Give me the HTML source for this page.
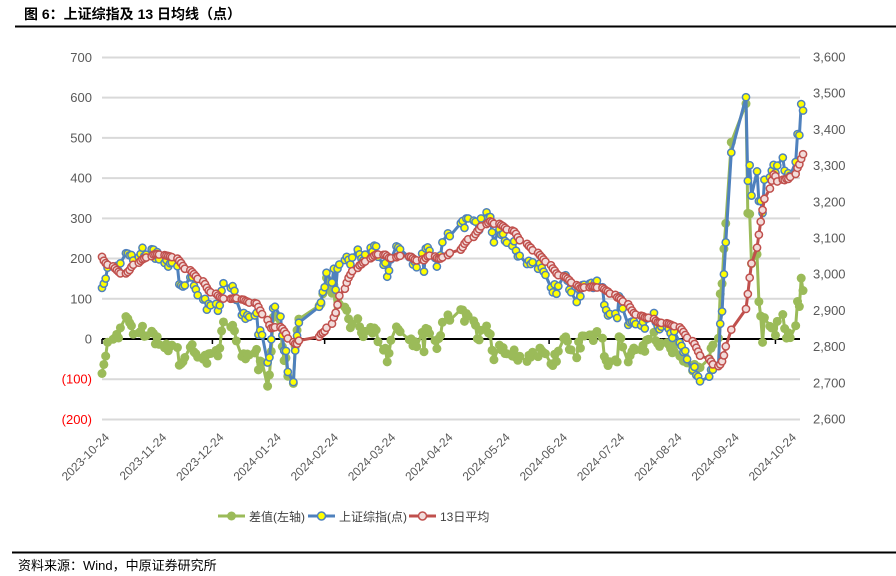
<!DOCTYPE html>
<html><head><meta charset="utf-8">
<style>
body{margin:0;background:#fff;width:896px;height:576px;overflow:hidden;font-family:"Liberation Sans","Noto Sans CJK SC",sans-serif;}
svg{display:block}
</style></head>
<body>
<svg id="chart" width="896" height="576" xmlns="http://www.w3.org/2000/svg">
<text x="24" y="19" font-size="14" font-weight="bold" fill="#000" font-family="Liberation Sans, Noto Sans CJK SC, sans-serif">图 6：上证综指及 13 日均线（点）</text>
<line x1="15" y1="26.5" x2="896" y2="26.5" stroke="#000" stroke-width="2"/>
<g id="grid"></g>
<g id="ylabels"></g>
<g id="y2labels"></g>
<g id="xaxis"></g>
<g id="series"></g>
<g>
  <g>
    <line x1="218" y1="516" x2="245" y2="516" stroke="#9BBB59" stroke-width="3"/>
    <circle cx="231.5" cy="516" r="4.5" fill="#9BBB59"/>
    <text x="249" y="521" font-size="12" fill="#404040">差值(左轴)</text>
  </g>
  <g>
    <line x1="308" y1="516" x2="335" y2="516" stroke="#4F81BD" stroke-width="3"/>
    <circle cx="321.5" cy="516" r="4" fill="#FFFF00" stroke="#4F81BD" stroke-width="1.5"/>
    <text x="339" y="521" font-size="12" fill="#404040">上证综指(点)</text>
  </g>
  <g>
    <line x1="409" y1="516" x2="436" y2="516" stroke="#C0504D" stroke-width="3"/>
    <circle cx="422.5" cy="516" r="4" fill="#F2DCDB" stroke="#C0504D" stroke-width="1.5"/>
    <text x="440" y="521" font-size="12" fill="#404040">13日平均</text>
  </g>
</g>
<line x1="12" y1="552.5" x2="896" y2="552.5" stroke="#000" stroke-width="2"/>
<text x="18" y="570" font-size="13" fill="#000">资料来源：Wind，中原证券研究所</text>
</svg>
<script>
// 12 closes before the first plotted day (for the 13-day average)
const preCloses = [3110,3076,3075,3078,3088,3088,3074,3084,3059,3005,2983,2939];
// Shanghai Composite closes, 2023-10-24 .. 2024-11-08 (trading days)
const closeOct23 = [2962,2974,2988,3018,3021,3019];
const closeNov23 = [3023,3009,3030,3058,3057,3052,3053,3038,3047,3056,3073,3050,3054,3069,3068,3043,3061,3041,3031,3039,3021,3030];
const closeDec23 = [3032,3022,2972,2969,2966,2969,2991,2992,2968,2958,2942,2930,2932,2902,2918,2914,2918,2899,2914,2954,2975];
const closeJan24 = [2962,2967,2954,2929,2887,2893,2877,2887,2882,2886,2893,2833,2845,2832,2756,2770,2820,2906,2910,2883,2831,2789];
const closeFeb24 = [2788,2730,2702,2789,2830,2866,2910,2922,2951,2964,3004,2977,3015,2957,3015];
const closeMar24 = [3027,3039,3048,3040,3027,3046,3068,3055,3043,3038,3054,3073,3062,3079,3077,3048,3026,3031,2993,3010,3041];
const closeApr24 = [3077,3074,3069,3047,3048,3027,3034,3019,3057,3007,3071,3074,3065,3045,3021,3044,3052,3088,3113,3105];
const closeMay24 = [3141,3147,3128,3154,3154,3148,3145,3119,3122,3154,3171,3157,3158,3116,3088,3124,3109,3111,3092,3087];
const closeJun24 = [3078,3091,3065,3049,3051,3028,3037,3028,3033,3015,3030,3018,3007,2998,2963,2950,2972,2946,2967];
const closeJul24 = [2995,2997,2982,2957,2950,2923,2959,2939,2970,2971,2974,2976,2962,2977,2982,2964,2915,2901,2886,2890,2891,2879,2939];
const closeAug24 = [2932,2905,2860,2867,2869,2870,2862,2858,2868,2850,2877,2879,2893,2867,2856,2848,2855,2855,2849,2837,2824,2842];
const closeSep24 = [2811,2802,2785,2788,2765,2736,2744,2721,2717,2704,2717,2736,2736,2748,2863,2897,3000,3088,3336];
const closeOct24 = [3489,3258,3301,3217,3284,3202,3202,3169,3261,3268,3286,3302,3280,3300,3322,3286,3266,3279];
const closeNov24 = [3272,3310,3387,3384,3470,3452];
const holidays = ["2024-01-01","2024-02-09","2024-02-12","2024-02-13","2024-02-14","2024-02-15","2024-02-16","2024-04-04","2024-04-05","2024-05-01","2024-05-02","2024-05-03","2024-06-10","2024-09-16","2024-09-17","2024-10-01","2024-10-02","2024-10-03","2024-10-04","2024-10-07"];
const leftTicks = [700,600,500,400,300,200,100,0,-100,-200];
const rightTicks = [3600,3500,3400,3300,3200,3100,3000,2900,2800,2700,2600];
const xLabels = ["2023-10-24","2023-11-24","2023-12-24","2024-01-24","2024-02-24","2024-03-24","2024-04-24","2024-05-24","2024-06-24","2024-07-24","2024-08-24","2024-09-24","2024-10-24"];

const closes = [].concat(closeOct23,closeNov23,closeDec23,closeJan24,closeFeb24,closeMar24,closeApr24,closeMay24,closeJun24,closeJul24,closeAug24,closeSep24,closeOct24,closeNov24);
const NS="http://www.w3.org/2000/svg";
const day0 = Date.UTC(2023,9,24);
const dates=[];
for(let t=day0; dates.length<closes.length; t+=86400000){
  const d=new Date(t), wd=d.getUTCDay(), s=d.toISOString().slice(0,10);
  if(wd===0||wd===6||holidays.includes(s)) continue;
  dates.push((t-day0)/86400000);
}
const xS = d => 102 + d*1.84;
const yL = v => 339 - v*(362/900);
const yR = v => 57 + (3600-v)*(362/1000);
function el(tag,attrs,parent){const e=document.createElementNS(NS,tag);for(const k in attrs)e.setAttribute(k,attrs[k]);parent.appendChild(e);return e;}

const grid=document.getElementById('grid'), yl=document.getElementById('ylabels'), yr=document.getElementById('y2labels'), xa=document.getElementById('xaxis'), ser=document.getElementById('series');
leftTicks.forEach(v=>{
  if(v!==0){const g=el('line',{x1:102,x2:800,y1:yL(v),y2:yL(v),stroke:'#D9D9D9','stroke-width':2},grid);
  
  }
  const t=el('text',{x:92,y:yL(v)+4.5,'text-anchor':'end','font-size':13,fill:v<0?'#FF0000':'#595959'},yl);
  t.textContent = v<0?'('+(-v)+')':String(v);
  
  
});
rightTicks.forEach(v=>{
  const t=el('text',{x:813,y:yR(v)+4.5,'font-size':13,fill:'#595959'},yr);
  t.textContent = v.toLocaleString('en-US');
  
  
});
const ax=el('line',{x1:102,x2:800,y1:yL(0),y2:yL(0),stroke:'#000','stroke-width':2},xa);


[0,60,121,182,243,305,366].forEach(d=>{
  const tk=el('line',{x1:xS(d),x2:xS(d),y1:yL(0),y2:yL(0)+5,stroke:'#000','stroke-width':1.5},xa);
  
  
});
xLabels.forEach((s,i)=>{
  const x=110+57.25*i, y=438;
  const t=el('text',{x:x,y:y,'text-anchor':'end','font-size':12,fill:'#595959',transform:`rotate(-45 ${x} ${y})`},xa);
  t.textContent=s;
  
  
});

// derived series
const all = preCloses.concat(closes);
const ma13 = closes.map((c,i)=>{let s=0;for(let k=i;k<i+13;k++)s+=all[k];return s/13;});
const diff = closes.map((c,i)=>c-ma13[i]);

function drawSeries(vals,yf,color,fill,stroke,r,name){
  const g=el('g',{},ser);
  
  
  const pts=vals.map((v,i)=>xS(dates[i]).toFixed(1)+','+yf(v).toFixed(1)).join(' ');
  const pl=el('polyline',{points:pts,fill:'none',stroke:color,'stroke-width':3,'stroke-linejoin':'round'},g);
  
  
  vals.forEach((v,i)=>{
    const c=el('circle',{cx:xS(dates[i]),cy:yf(v),r:r,fill:fill,stroke:stroke||'none','stroke-width':stroke?1.5:0},g);
    
    
  });
}
drawSeries(diff,yL,'#9BBB59','#9BBB59',null,4.5,'diff-series');
drawSeries(closes,yR,'#4F81BD','#FFFF00','#4F81BD',3.6,'index-series');
drawSeries(ma13,yR,'#C0504D','#F2DCDB','#C0504D',3.6,'ma13-series');
</script>
</body></html>
